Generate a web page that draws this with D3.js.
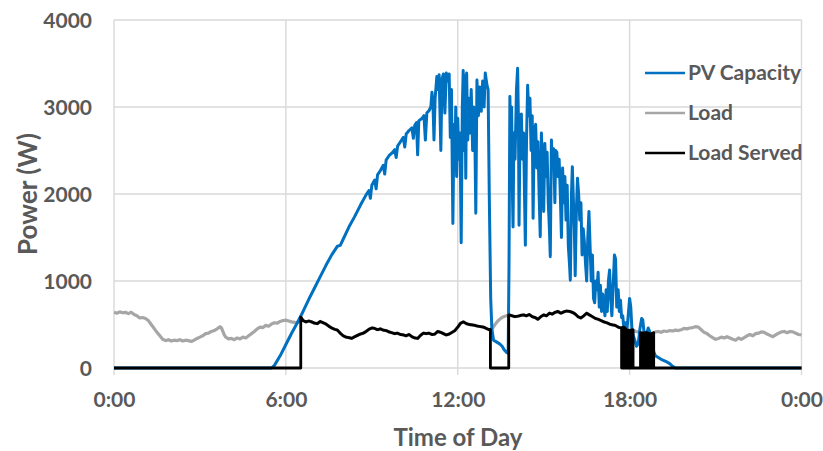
<!DOCTYPE html>
<html>
<head>
<meta charset="utf-8">
<script src="https://cdn.jsdelivr.net/npm/d3@7"></script>
<style>
  body { margin: 0; background: #fff; }
  text { font-family: Lato, "Open Sans", sans-serif; font-weight: 700; fill: #595959; }
</style>
</head>
<body>
<svg id="chart" width="823" height="451"></svg>
<script>
// Axis ticks and labels
const hourTicks = [0, 6, 12, 18, 24];
const hourLabels = ["0:00", "6:00", "12:00", "18:00", "0:00"];
const powerTicks = [0, 1000, 2000, 3000, 4000];
const seriesNames = ["PV Capacity", "Load", "Load Served"];
const seriesColors = ["#0070c0", "#a6a6a6", "#000000"];

// PV capacity over the day: [hour, watts]
const pvCapacity = [
  [0,0],[5.5,0],[5.6,30],[5.8,140],[6.0,270],[6.2,400],[6.4,520],[6.6,650],[6.8,790],[7.0,920],
  [7.2,1050],[7.4,1180],[7.6,1300],[7.8,1400],[7.9,1410],[8.0,1480],[8.2,1620],[8.4,1740],[8.6,1870],
  [8.8,1990],[8.9,2040],[8.95,1950],[9.0,2100],[9.1,2160],[9.15,2060],[9.2,2220],[9.3,2270],[9.4,2330],
  [9.45,2230],[9.5,2390],[9.6,2440],[9.7,2470],[9.8,2510],[9.85,2420],[9.9,2550],[10.0,2600],[10.1,2650],
  [10.15,2540],[10.2,2690],[10.3,2730],[10.4,2760],[10.45,2640],[10.5,2790],[10.56,2820],[10.6,2450],
  [10.64,2840],[10.75,2870],[10.82,2900],[10.87,2620],[10.92,2930],[11.0,2960],[11.06,3000],[11.1,3170],
  [11.14,2980],[11.17,2620],[11.21,3100],[11.27,3350],[11.31,3200],[11.35,3370],[11.41,2500],[11.45,3320],
  [11.5,3380],[11.55,2930],[11.6,3390],[11.65,3300],[11.7,3380],[11.74,2650],[11.78,3200],[11.83,1660],
  [11.87,2800],[11.9,2300],[11.93,3000],[11.96,2200],[12.0,2870],[12.04,2400],[12.08,2700],[12.12,1440],
  [12.16,3000],[12.19,3420],[12.22,2500],[12.25,3360],[12.28,2180],[12.31,3390],[12.35,2620],[12.39,3100],
  [12.43,2700],[12.47,3200],[12.52,2500],[12.56,3000],[12.6,2600],[12.63,1780],[12.67,3310],[12.72,2900],
  [12.77,3230],[12.82,2950],[12.87,3300],[12.92,3000],[12.96,3390],[13.02,3250],[13.06,3200],[13.1,2000],
  [13.15,800],[13.19,450],[13.25,320],[13.35,300],[13.45,280],[13.55,250],[13.62,210],[13.7,180],
  [13.76,170],[13.79,1200],[13.82,3120],[13.85,2400],[13.88,3000],[13.91,2000],[13.93,1620],[13.96,2700],
  [14.0,2400],[14.05,3200],[14.09,3445],[14.12,2800],[14.14,1640],[14.18,2900],[14.22,2920],[14.26,2400],
  [14.3,2700],[14.33,2000],[14.36,1410],[14.4,2600],[14.44,3250],[14.48,2900],[14.52,3100],[14.56,2500],
  [14.6,2900],[14.63,1720],[14.67,2750],[14.72,2800],[14.76,2300],[14.8,2600],[14.84,2000],[14.88,1510],
  [14.92,2700],[14.96,2300],[15.0,1800],[15.04,2580],[15.08,2200],[15.12,2480],[15.16,1900],[15.2,1600],
  [15.23,1280],[15.27,2620],[15.31,2300],[15.35,2520],[15.39,1900],[15.42,2500],[15.46,2480],[15.5,2200],
  [15.54,2400],[15.58,2000],[15.62,1500],[15.66,2300],[15.7,1900],[15.74,2200],[15.78,1700],[15.82,2100],
  [15.86,1400],[15.9,1200],[15.93,1010],[15.97,2000],[16.0,2314],[16.04,1900],[16.07,1600],[16.1,1060],
  [16.14,1800],[16.18,2180],[16.22,2000],[16.26,1700],[16.3,1900],[16.34,1300],[16.38,1600],[16.42,1450],
  [16.46,1200],[16.5,1000],[16.54,1500],[16.58,1800],[16.62,1400],[16.66,1000],[16.7,1300],[16.74,800],
  [16.78,750],[16.82,1000],[16.86,900],[16.9,1100],[16.94,700],[16.98,950],[17.02,650],[17.06,850],
  [17.1,700],[17.14,600],[17.18,900],[17.22,650],[17.26,1000],[17.3,1126],[17.34,800],[17.38,600],
  [17.42,900],[17.47,1300],[17.51,1250],[17.55,700],[17.6,900],[17.64,650],[17.68,780],[17.72,580],
  [17.76,600],[17.8,450],[17.85,520],[17.9,420],[17.95,600],[18.0,800],[18.04,700],[18.08,450],
  [18.12,380],[18.18,320],[18.24,250],[18.3,280],[18.36,450],[18.42,570],[18.46,550],[18.5,420],
  [18.55,380],[18.6,400],[18.65,460],[18.7,420],[18.75,330],[18.8,250],[18.85,180],[18.9,140],
  [19.0,120],[19.1,100],[19.2,85],[19.3,70],[19.4,50],[19.5,20],[19.6,0],[24,0]
];

// Household load: [hour, watts]
const load = [
  [0,640],[0.1,630],[0.2,645],[0.3,635],[0.4,640],[0.5,625],[0.6,640],[0.7,615],[0.8,600],[0.9,575],
  [1.0,580],[1.1,570],[1.2,545],[1.3,500],[1.4,455],[1.5,410],[1.6,370],[1.7,330],[1.8,315],[1.9,325],
  [2.0,310],[2.1,320],[2.2,315],[2.3,325],[2.4,310],[2.5,320],[2.6,315],[2.7,305],[2.8,320],[2.9,340],
  [3.0,355],[3.1,370],[3.2,395],[3.3,400],[3.4,420],[3.5,430],[3.6,450],[3.7,475],[3.75,460],[3.8,420],
  [3.85,380],[3.9,355],[4.0,335],[4.1,340],[4.2,325],[4.3,345],[4.4,335],[4.5,355],[4.6,345],[4.7,370],
  [4.8,395],[4.9,420],[5.0,450],[5.1,470],[5.2,465],[5.3,490],[5.4,480],[5.5,505],[5.6,520],[5.7,515],
  [5.8,535],[5.9,545],[6.0,550],[6.1,540],[6.2,530],[6.3,525],[6.4,520],[6.5,545],[6.52,585],[6.6,545],
  [6.7,530],[6.8,540],[6.9,530],[7.0,515],[7.1,510],[7.2,535],[7.3,520],[7.4,505],[7.5,480],[7.6,460],
  [7.7,445],[7.8,435],[7.9,400],[8.0,370],[8.1,355],[8.2,350],[8.3,340],[8.4,360],[8.5,375],[8.6,390],
  [8.7,400],[8.8,420],[8.9,445],[9.0,460],[9.1,455],[9.2,440],[9.3,450],[9.4,435],[9.5,430],[9.6,415],
  [9.7,405],[9.8,395],[9.9,400],[10.0,385],[10.1,380],[10.2,370],[10.3,385],[10.4,360],[10.5,345],
  [10.6,340],[10.7,375],[10.8,400],[10.9,395],[11.0,400],[11.1,385],[11.2,390],[11.3,420],[11.4,410],
  [11.5,395],[11.6,380],[11.7,390],[11.8,410],[11.9,430],[12.0,470],[12.1,515],[12.2,530],[12.3,510],
  [12.4,500],[12.5,495],[12.6,490],[12.7,480],[12.8,475],[12.9,470],[13.0,455],[13.1,440],[13.2,450],
  [13.3,500],[13.4,540],[13.5,570],[13.6,590],[13.7,600],[13.8,610],[13.9,600],[14.0,590],[14.1,595],
  [14.2,605],[14.3,610],[14.4,600],[14.5,615],[14.6,590],[14.7,580],[14.8,560],[14.9,590],[15.0,610],
  [15.1,600],[15.2,630],[15.3,620],[15.4,640],[15.5,650],[15.6,630],[15.7,645],[15.8,655],[15.9,650],
  [16.0,640],[16.1,620],[16.2,590],[16.3,575],[16.4,600],[16.5,630],[16.6,610],[16.7,590],[16.8,570],
  [16.9,560],[17.0,545],[17.1,530],[17.2,520],[17.3,505],[17.4,495],[17.5,490],[17.6,470],[17.7,460],
  [17.8,470],[17.9,440],[18.0,430],[18.1,440],[18.2,420],[18.3,415],[18.4,405],[18.5,400],[18.6,410],
  [18.7,390],[18.8,400],[18.9,415],[19.0,420],[19.1,410],[19.2,425],[19.3,420],[19.4,430],[19.5,425],
  [19.6,435],[19.7,430],[19.8,440],[19.9,455],[20.0,450],[20.1,460],[20.2,465],[20.3,475],[20.4,470],
  [20.5,440],[20.6,410],[20.7,395],[20.8,370],[20.9,350],[21.0,330],[21.1,340],[21.2,355],[21.3,345],
  [21.4,360],[21.5,345],[21.6,330],[21.7,320],[21.8,345],[21.9,330],[22.0,350],[22.1,370],[22.2,385],
  [22.3,370],[22.4,395],[22.5,400],[22.6,415],[22.7,410],[22.8,390],[22.9,375],[23.0,360],[23.1,380],
  [23.2,400],[23.3,415],[23.4,420],[23.5,405],[23.6,420],[23.7,415],[23.8,400],[23.9,385],[24.0,380]
];

// Periods (hours) during which the load is served
const servedWindows = [
  [6.52,13.14],[13.78,17.72],[17.75,17.79],[17.82,17.87],[17.94,17.98],[18.01,18.05],[18.08,18.12],
  [18.38,18.42],[18.45,18.50],[18.53,18.58],[18.63,18.67],[18.70,18.75],[18.79,18.84]
];

const svg = d3.select("#chart");
const x = d3.scaleLinear().domain([0, 24]).range([114, 801.5]);
const y = d3.scaleLinear().domain([0, 4000]).range([368, 20]);

// Load-served trace: follows the load inside each window, zero elsewhere
const loadAt = d3.scaleLinear().domain(load.map(d => d[0])).range(load.map(d => d[1]));
const loadServed = [[0, 0]];
servedWindows.forEach(([a, b]) => {
  loadServed.push([a, 0], [a, loadAt(a)]);
  load.forEach(d => { if (d[0] > a && d[0] < b) loadServed.push(d); });
  loadServed.push([b, loadAt(b)], [b, 0]);
});
loadServed.push([24, 0]);

// Gridlines
const grid = svg.append("g");
grid.selectAll("line.h").data(powerTicks).join("line")
  .attr("x1", x(0)).attr("x2", x(24))
  .attr("y1", d => y(d)).attr("y2", d => y(d))
  .attr("stroke", "#d9d9d9").attr("stroke-width", 1.4);
grid.selectAll("line.v").data(hourTicks).join("line")
  .attr("x1", d => x(d)).attr("x2", d => x(d))
  .attr("y1", y(4000)).attr("y2", y(0) + 7)
  .attr("stroke", "#d9d9d9").attr("stroke-width", 1.4);

// Axes (labels only)
const xAxis = d3.axisBottom(x).tickValues(hourTicks)
  .tickFormat((d, i) => hourLabels[i]).tickSize(0).tickPadding(0);
const gx = svg.append("g").attr("transform", `translate(0,${y(0) + 39})`).call(xAxis);
gx.select(".domain").remove();
gx.selectAll("text").attr("font-size", 21).attr("dy", 0)
  .style("font-family", "Lato, sans-serif").style("font-weight", 700).style("fill", "#595959");

const yAxis = d3.axisLeft(y).tickValues(powerTicks).tickFormat(d3.format("d")).tickSize(0).tickPadding(0);
const gy = svg.append("g").attr("transform", `translate(92,0)`).call(yAxis);
gy.select(".domain").remove();
gy.selectAll("text").attr("font-size", 21).attr("dy", "0.34em")
  .style("font-family", "Lato, sans-serif").style("font-weight", 700).style("fill", "#595959");

// Axis titles
svg.append("text").attr("x", 458).attr("y", 446).attr("text-anchor", "middle")
  .attr("font-size", 24).text("Time of Day");
svg.append("text").attr("transform", `translate(37,${(y(0) + y(4000)) / 2}) rotate(-90)`)
  .attr("text-anchor", "middle").attr("font-size", 26).text("Power (W)");

// Series
const line = d3.line().x(d => x(d[0])).y(d => y(d[1]));
const series = [
  { data: load, color: seriesColors[1], width: 3.2 },
  { data: pvCapacity, color: seriesColors[0], width: 3 },
  { data: loadServed, color: seriesColors[2], width: 2.8 }
];
series.forEach(s => {
  svg.append("path").datum(s.data).attr("d", line)
    .attr("fill", "none").attr("stroke", s.color).attr("stroke-width", s.width)
    .attr("stroke-linejoin", "round");
});

// Legend
const legend = svg.append("g");
seriesNames.forEach((name, i) => {
  const ly = 73 + i * 40;
  legend.append("line").attr("x1", 645).attr("x2", 685).attr("y1", ly).attr("y2", ly)
    .attr("stroke", seriesColors[i]).attr("stroke-width", 2.5);
  legend.append("text").attr("x", 688).attr("y", ly).attr("dy", "0.35em")
    .attr("font-size", 21).text(name);
});
</script>
</body>
</html>
